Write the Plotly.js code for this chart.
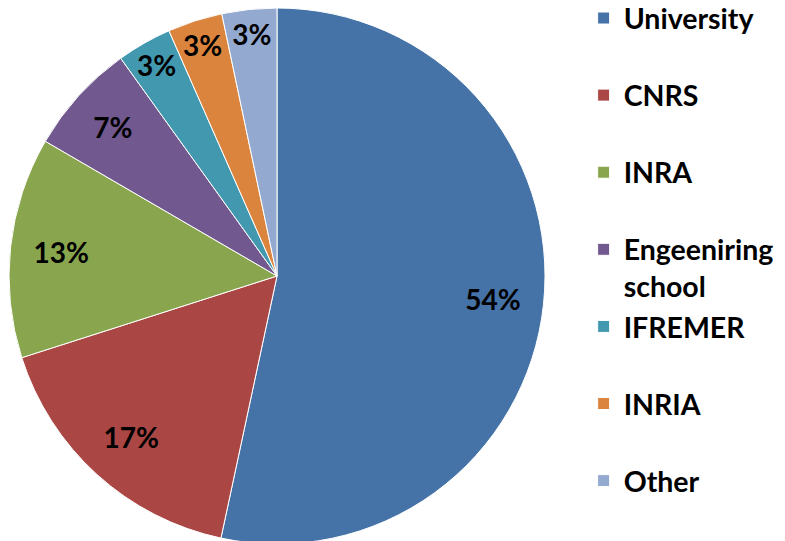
<!DOCTYPE html>
<html>
<head>
<meta charset="utf-8">
<script src="https://cdn.plot.ly/plotly-3.0.1.min.js"></script>
<style>
  html, body { margin: 0; padding: 0; overflow: hidden; background: #fff; }
</style>
</head>
<body>
<div id="pie"></div>
<script>
// categories, slice sizes (as measured on the drawing) and the printed labels
var labels = ['University', 'CNRS', 'INRA', 'Engeeniring<br>school', 'IFREMER', 'INRIA', 'Other'];
var shares = [53.3, 16.7, 13.3, 6.7, 3.3, 3.3, 3.3];
var pctLabels = ['54%', '17%', '13%', '7%', '3%', '3%', '3%'];
var colors = ['#4572a7', '#aa4643', '#89a54e', '#71588f', '#4198af', '#db843d', '#93a9cf'];

// every legend entry takes two lines like the original
var legendNames = labels.map(function (l) {
  return l.indexOf('<br>') >= 0 ? l : l + '<br> ';
});

var dom = { x: [0, 536 / 776], y: [0, 1] };

// the filled pie with the legend
var slices = {
  type: 'pie',
  labels: legendNames,
  values: shares,
  sort: false,
  direction: 'clockwise',
  rotation: 0,
  marker: { colors: colors, line: { color: '#ffffff', width: 1 } },
  textinfo: 'none',
  hoverinfo: 'label+percent',
  domain: dom
};

// see-through ring on top, only to put the percent labels near the rim
var ring = {
  type: 'pie',
  labels: legendNames,
  values: shares,
  text: pctLabels,
  sort: false,
  direction: 'clockwise',
  rotation: 0,
  hole: 0.62,
  showlegend: false,
  marker: { colors: colors.map(function () { return 'rgba(0,0,0,0)'; }), line: { width: 0 } },
  texttemplate: '%{text}',
  textposition: 'inside',
  insidetextorientation: 'horizontal',
  textfont: { family: 'Lato', size: 28, color: '#000000', weight: 'bold' },
  hoverinfo: 'skip',
  domain: dom
};

var layout = {
  width: 785,
  height: 620,
  margin: { l: 9, r: 0, t: 8, b: 76, autoexpand: false },
  paper_bgcolor: '#ffffff',
  showlegend: true,
  uniformtext: { minsize: 28, mode: 'show' },
  legend: {
    x: 0.7405,
    y: 1.028,
    xanchor: 'left',
    yanchor: 'top',
    valign: 'top',
    maxheight: 1000,
    font: { family: 'Lato', size: 28.5, color: '#000000', weight: 'bold' }
  }
};

Plotly.newPlot('pie', [slices, ring], layout, { staticPlot: true });
</script>
</body>
</html>
